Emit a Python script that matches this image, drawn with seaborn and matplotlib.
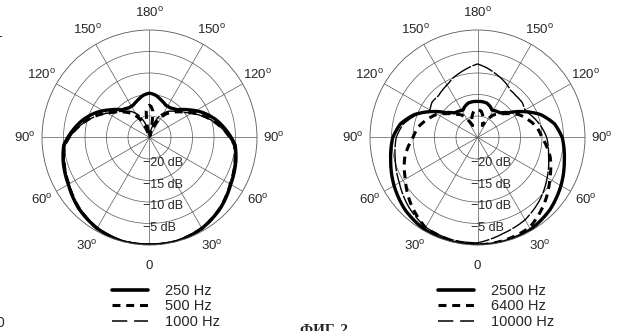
import numpy as np
import matplotlib.pyplot as plt
from matplotlib.lines import Line2D
import seaborn as sns

sns.set_style('white')
plt.rcParams['font.family'] = ['Liberation Sans', 'DejaVu Sans']
plt.rcParams['mathtext.fontset'] = 'custom'
plt.rcParams['mathtext.rm'] = 'Liberation Sans'

# half patterns in dB, 0 = front (bottom), 180 = rear (top)
angles_low = [0, 15, 30, 45, 60, 75, 85, 95, 105, 115, 125, 135, 145, 153, 160, 166, 170, 173, 177, 180]
db_250 = [0, 0, -0.6, -1.7, -3.2, -4.2, -5.0, -7.0, -9.0, -11.3, -13.8, -15.9, -16.6, -16.6, -16.1, -15.6, -15.2, -15.0, -14.8, -14.7]
db_500 = [0, 0, -0.6, -1.8, -3.3, -4.4, -5.2, -7.4, -9.8, -12.3, -14.8, -16.6, -18.3, -20.3, -22.8, -24.5, -21.5, -18.8, -17.8, -17.5]
db_1000 = [-0.2, -0.2, -0.8, -1.9, -3.4, -4.5, -5.3, -7.5, -9.9, -12.5, -14.9, -16.4, -17.6, -19.0, -20.8, -22.5, -23.5, -24.2, -24.8, -25.0]

angles_high = [0, 15, 30, 45, 60, 75, 90, 100, 110, 119, 128, 137, 145, 152, 158, 165, 172, 180]
db_2500 = [0, 0, -0.3, -1.2, -2.6, -4.1, -5.3, -6.8, -9.4, -12.6, -15.6, -17.2, -17.5, -17.8, -17.2, -16.7, -16.6, -16.6]
db_6400 = [0, -0.3, -0.8, -3.1, -5.6, -7.5, -10.0, -11.0, -12.6, -14.0, -16.0, -17.6, -18.6, -20.5, -22.0, -20.0, -18.8, -18.5]
db_10000_left = [-0.5, -0.5, -0.9, -2.3, -4.0, -5.2, -6.1, -7.4, -9.8, -12.3, -11.6, -11.7, -11.2, -10.7, -10.0, -9.4, -8.7, -7.9]
db_10000_right = [-0.5, -1.9, -2.9, -4.5, -6.3, -7.9, -8.9, -10.0, -11.2, -12.3, -11.8, -11.8, -11.6, -10.8, -10.2, -9.5, -8.7, -7.9]

labels_low = ['250 Hz', '500 Hz', '1000 Hz']
labels_high = ['2500 Hz', '6400 Hz', '10000 Hz']
angle_ticks = list(range(0, 360, 30))
angle_labels = ['0', '30', '60', '90', '120', '150', '180', '150', '120', '90', '60', '30']
ring_db = [-20, -15, -10, -5]
ring_labels = ['\u221220 dB', '\u221215 dB', '\u221210 dB', '\u22125 dB']

# line styles in the plot and in the legend
plot_styles = [
    dict(lw=2.4, linestyle='-'),
    dict(lw=2.2, linestyle=(0, (2.6, 1.9))),
    dict(lw=1.0, linestyle=(0, (16, 1.2))),
]
legend_styles = [
    dict(lw=2.6, linestyle='-'),
    dict(lw=2.2, linestyle=(0, (2.6, 1.9))),
    dict(lw=1.1, linestyle=(0, (10, 4.5))),
]


def full_pattern(angles, left, right=None):
    # mirror the half pattern round to 360 deg
    if right is None:
        right = left
    ang = list(angles) + [360 - a for a in reversed(angles[:-1])]
    vals = list(left) + list(reversed(right[:-1]))
    return np.deg2rad(ang), np.array(vals)


def setup_axes(ax):
    ax.set_theta_zero_location('S')
    ax.set_theta_direction(-1)
    ax.set_ylim(-25, 0)
    ax.set_yticks(ring_db)
    ax.set_yticklabels([])
    ax.set_xticks(np.deg2rad(angle_ticks))
    ax.set_xticklabels([])
    ax.grid(True, color='#555555', lw=0.5)
    ax.spines['polar'].set_color('#555555')
    ax.spines['polar'].set_linewidth(0.6)
    ax.set_xlabel('')
    ax.set_ylabel('')

    for a, lab in zip(angle_ticks, angle_labels):
        txt = lab if a == 0 else lab + '$^{\\mathrm{o}}$'
        r = 4.8 if a == 0 else 4.0
        ax.text(np.deg2rad(a), r, txt, ha='center', va='center', fontsize=9.5)

    for rv, lab in zip(ring_db, ring_labels):
        ax.annotate(lab, xy=(0, rv), xytext=(-4.7, -3.2), textcoords='offset points',
                    ha='left', va='center', fontsize=9)


fig = plt.figure(figsize=(6.25, 3.31), dpi=100)
ax1 = fig.add_axes([42 / 625, 86 / 331, 215 / 625, 215 / 331], projection='polar')
ax2 = fig.add_axes([370 / 625, 86 / 331, 215 / 625, 215 / 331], projection='polar')

series_low = [(db_250, None), (db_500, None), (db_1000, None)]
series_high = [(db_2500, None), (db_6400, None), (db_10000_left, db_10000_right)]

for ax, angles, series in [(ax1, angles_low, series_low), (ax2, angles_high, series_high)]:
    for (left, right), st in zip(series, plot_styles):
        theta, r = full_pattern(angles, left, right)
        sns.lineplot(x=theta, y=r, ax=ax, sort=False, estimator=None, color='black',
                     legend=False, solid_joinstyle='round', **st)
        # draw the segments as arcs in polar space, not straight chords
        ax.lines[-1].get_path()._interpolation_steps = 30
    setup_axes(ax)

handles = [Line2D([], [], color='black', **st) for st in legend_styles]
for x0, labs in [(112 / 625, labels_low), (438 / 625, labels_high)]:
    fig.legend(handles, labs, loc='upper left', bbox_to_anchor=(x0, 1 - 284 / 331),
               frameon=False, fontsize=10.5, borderpad=0, borderaxespad=0,
               handlelength=2.5, handletextpad=1.15, labelspacing=0.1)

fig.text(300 / 625, -2.5 / 331, '\u0424\u0418\u0413. 2', family='Liberation Serif',
         fontweight='bold', fontsize=11, ha='left', va='baseline')
fig.text(3 / 625, 1 - 33 / 331, '1', ha='right', va='center', fontsize=10)
fig.text(4 / 625, 1 - 323 / 331, '0', ha='right', va='center', fontsize=10)

fig.savefig('out.png', dpi=100)
